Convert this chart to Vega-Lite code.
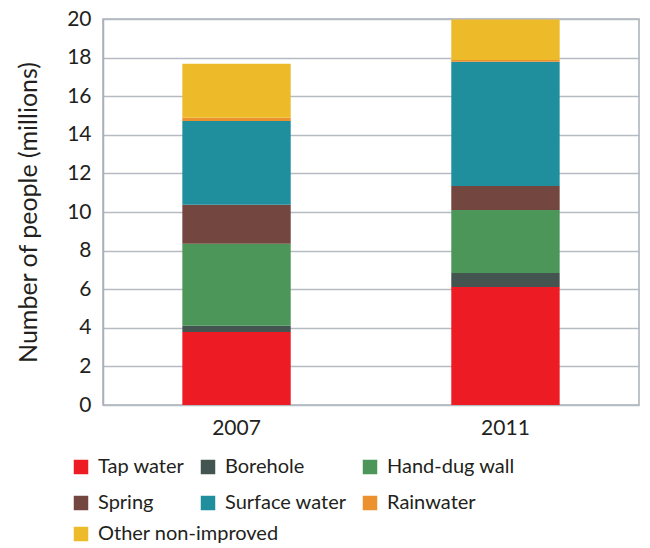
{
  "$schema": "https://vega.github.io/schema/vega-lite/v6.json",
  "width": 536,
  "height": 386,
  "autosize": "none",
  "padding": {"left": 103, "top": 19, "right": 11, "bottom": 143},
  "background": "white",
  "config": {
    "font": "Lato",
    "view": {"stroke": "#a9b0b8", "strokeWidth": 1.5},
    "axis": {"labelFont": "Lato", "titleFont": "Lato", "labelColor": "#231f20", "titleColor": "#231f20"}
  },
  "data": {
    "values": [
      {"year": "2007", "source": "Tap water", "rank": 1, "people": 3.78},
      {"year": "2007", "source": "Borehole", "rank": 2, "people": 0.32},
      {"year": "2007", "source": "Hand-dug wall", "rank": 3, "people": 4.25},
      {"year": "2007", "source": "Spring", "rank": 4, "people": 2.02},
      {"year": "2007", "source": "Surface water", "rank": 5, "people": 4.35},
      {"year": "2007", "source": "Rainwater", "rank": 6, "people": 0.16},
      {"year": "2007", "source": "Other non-improved", "rank": 7, "people": 2.80},
      {"year": "2011", "source": "Tap water", "rank": 1, "people": 6.12},
      {"year": "2011", "source": "Borehole", "rank": 2, "people": 0.72},
      {"year": "2011", "source": "Hand-dug wall", "rank": 3, "people": 3.27},
      {"year": "2011", "source": "Spring", "rank": 4, "people": 1.24},
      {"year": "2011", "source": "Surface water", "rank": 5, "people": 6.43},
      {"year": "2011", "source": "Rainwater", "rank": 6, "people": 0.10},
      {"year": "2011", "source": "Other non-improved", "rank": 7, "people": 2.10}
    ]
  },
  "transform": [
    {"stack": "people", "groupby": ["year"], "sort": [{"field": "rank", "order": "ascending"}], "as": ["lo", "hi"]}
  ],
  "encoding": {
    "x": {
      "field": "year", "type": "nominal",
      "scale": {"paddingInner": 0.597, "paddingOuter": 0.295},
      "axis": {"title": null, "labelAngle": 0, "labelFontSize": 21, "labelPadding": 12, "ticks": false, "domain": false}
    },
    "y": {
      "field": "lo", "type": "quantitative",
      "scale": {"domain": [0, 20], "nice": false},
      "axis": {
        "title": "Number of people (millions)", "titleFontSize": 25, "titleFontWeight": "normal", "titlePadding": 25,
        "values": [0, 2, 4, 6, 8, 10, 12, 14, 16, 18, 20],
        "labelFontSize": 21, "labelPadding": 12, "ticks": false,
        "domainColor": "#a9b0b8", "domainWidth": 1.5,
        "gridColor": "#b4bbc2", "gridWidth": 1.5
      }
    },
    "y2": {"field": "hi"}
  },
  "layer": [
    {
      "transform": [{"filter": "datum.source != 'Other non-improved'"}],
      "mark": {"type": "bar"},
      "encoding": {
        "color": {
          "field": "source", "type": "nominal",
          "scale": {
            "domain": ["Tap water", "Borehole", "Hand-dug wall", "Spring", "Surface water", "Rainwater"],
            "range": ["#ED1C24", "#435451", "#4D965A", "#734640", "#1F8F9E", "#EB912E"]
          },
          "legend": {
            "title": null, "orient": "none", "legendX": -32, "legendY": 438,
            "direction": "horizontal", "columns": 3, "gridAlign": "each",
            "symbolType": "square", "symbolSize": 210, "symbolStrokeWidth": 0, "symbolOpacity": 1,
            "labelFont": "Lato", "labelFontSize": 20, "labelColor": "#231f20", "labelOffset": 7, "labelLimit": 400,
            "columnPadding": 13, "rowPadding": 16, "padding": 0
          }
        }
      }
    },
    {
      "transform": [{"filter": "datum.source == 'Other non-improved'"}],
      "mark": {"type": "bar"},
      "encoding": {
        "fill": {
          "field": "source", "type": "nominal",
          "scale": {"domain": ["Other non-improved"], "range": ["#EDBB2A"]},
          "legend": {
            "title": null, "orient": "none", "legendX": -32, "legendY": 505,
            "symbolType": "square", "symbolSize": 210, "symbolStrokeWidth": 0, "symbolOpacity": 1,
            "labelFont": "Lato", "labelFontSize": 20, "labelColor": "#231f20", "labelOffset": 7, "labelLimit": 400,
            "padding": 0
          }
        }
      }
    }
  ]
}
